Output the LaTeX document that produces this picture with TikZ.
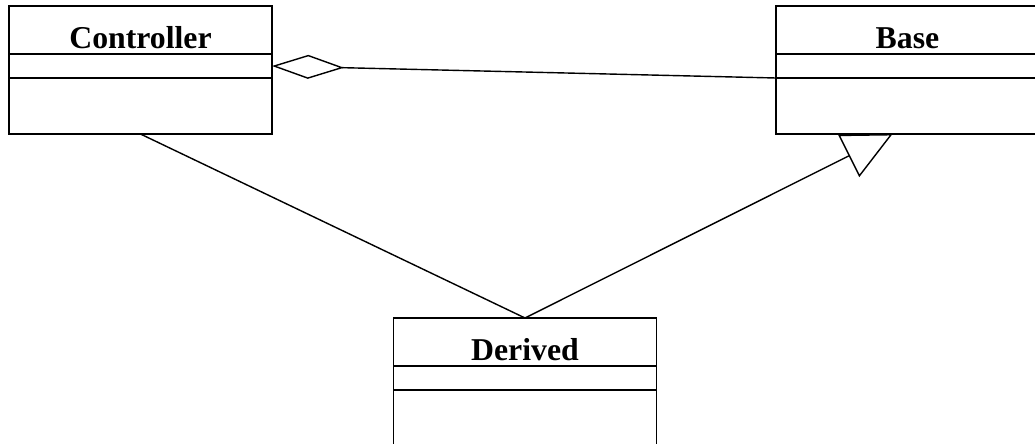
\documentclass[tikz,border=0pt]{standalone}
\usepackage{fontspec}
\setmainfont{Liberation Serif}
\usetikzlibrary{positioning,arrows.meta}

\tikzset{
  compart/.style={rectangle, draw, line width=1pt, inner sep=0pt, outer sep=0pt, minimum width=6.575cm},
  classname/.style={compart, minimum height=1.2cm, text height=0.925cm, text depth=0pt, font=\fontsize{22.6}{26}\selectfont\bfseries},
  attrs/.style={compart, minimum height=0.6cm},
  ops/.style={compart, minimum height=1.4cm},
  link/.style={line width=1pt},
}

\begin{document}
\begin{tikzpicture}[x=0.025cm, y=0.025cm, node distance=0pt]
    \useasboundingbox (0,0) rectangle (1035,444);
    % Controller
    \node[classname] (ctrl) at (140.5,414) {Controller};
    \node[attrs, below=of ctrl] (ctrlattr) {};
    \node[ops, below=of ctrlattr] (ctrlops) {};
    % Base
    \node[classname] (base) at (907.5,414) {Base};
    \node[attrs, below=of base] (baseattr) {};
    \node[ops, below=of baseattr] (baseops) {};
    % Derived
    \node[classname] (der) at (525,102) {Derived};
    \node[attrs, below=of der] (derattr) {};
    \node[ops, below=of derattr] (derops) {};
    \draw[link, {Diamond[open, length=1.8cm, width=0.6cm]}-] (ctrlattr.east) -- (baseattr.south west);
    \draw[link] (ctrlops.south) -- (der.north);
    \draw[link, -{Triangle[open, length=1.225cm, width=1.175cm]}] (der.north) -- ([xshift=-0.375cm]baseops.south);
\end{tikzpicture}
\end{document}
